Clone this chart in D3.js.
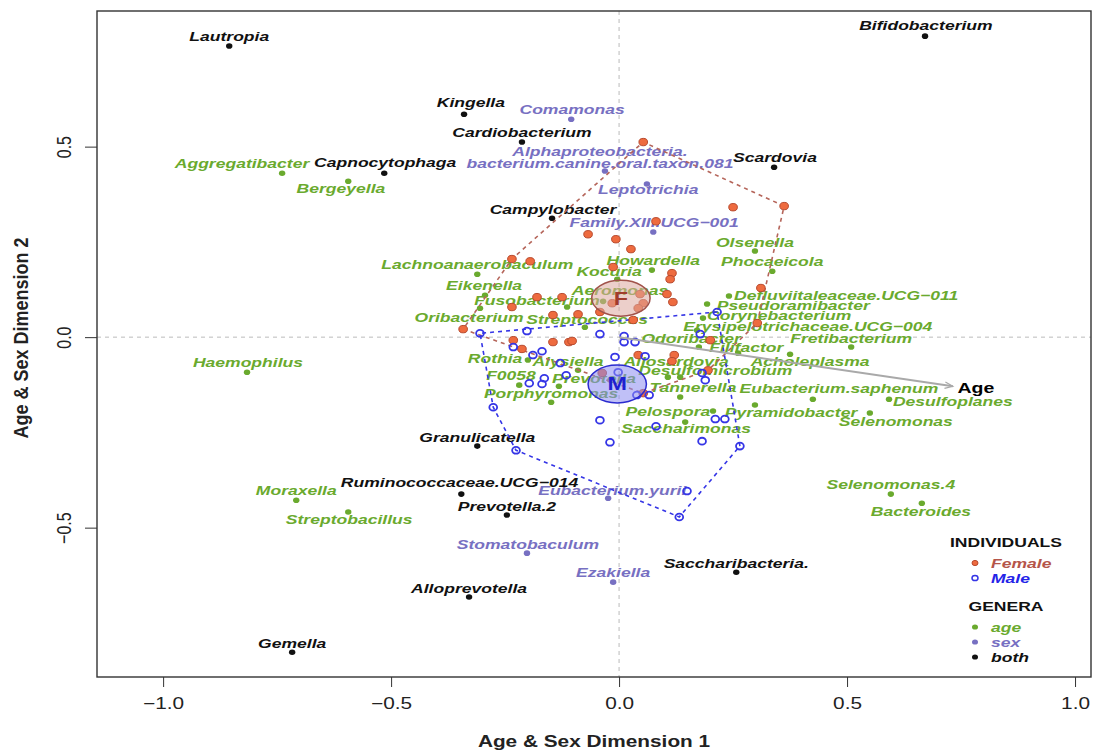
<!DOCTYPE html>
<html>
<head>
<meta charset="utf-8">
<style>
  body { margin: 0; background: #fff; }
  svg text { font-family: "Liberation Sans", Arial, sans-serif; }
  .lab { font-size: 13.5px; font-weight: bold; font-style: italic; }
  .ticklab { font-size: 16px; fill: #222; }
  .title { font-size: 16px; font-weight: bold; fill: #222; }
  .leg { font-size: 13.5px; font-weight: bold; }
</style>
</head>
<body>
<div id="chart"></div>
<script src="https://cdn.jsdelivr.net/npm/d3@7"></script>
<script>
// genera: [name, dim1, dim2, label dim1, label dim2]
var ageGenera = [
  ["Aggregatibacter", -0.739, 0.430, -0.827, 0.457],
  ["Bergeyella", -0.594, 0.409, -0.610, 0.391],
  ["Haemophilus", -0.816, -0.092, -0.814, -0.066],
  ["Moraxella", -0.708, -0.428, -0.708, -0.402],
  ["Streptobacillus", -0.594, -0.459, -0.592, -0.478],
  ["Lachnoanaerobaculum", -0.311, 0.165, -0.311, 0.192],
  ["Eikenella", -0.294, 0.110, -0.296, 0.136],
  ["Fusobacterium", -0.114, 0.079, -0.180, 0.097],
  ["Oribacterium", -0.305, 0.076, -0.329, 0.052],
  ["Streptococcus", -0.075, 0.026, -0.070, 0.047],
  ["Kocuria", -0.004, 0.152, -0.022, 0.173],
  ["Howardella", 0.072, 0.176, 0.075, 0.202],
  ["Aeromonas", -0.035, 0.094, 0.002, 0.123],
  ["Olsenella", 0.298, 0.226, 0.298, 0.249],
  ["Phocaeicola", 0.336, 0.173, 0.336, 0.199],
  ["Defluviitaleaceae.UCG\u2212011", 0.241, 0.108, 0.498, 0.110],
  ["Pseudoramibacter", 0.193, 0.087, 0.382, 0.084],
  ["Corynebacterium", 0.184, 0.050, 0.351, 0.058],
  ["Erysipelotrichaceae.UCG\u2212004", 0.171, 0.018, 0.414, 0.029],
  ["Odoribacter", 0.175, -0.026, 0.158, -0.003],
  ["Filifactor", 0.261, -0.042, 0.279, -0.026],
  ["Fretibacterium", 0.509, -0.026, 0.509, -0.003],
  ["Acholeplasma", 0.375, -0.045, 0.419, -0.063],
  ["Rothia", -0.200, -0.060, -0.272, -0.055],
  ["Alysiella", -0.090, -0.087, -0.112, -0.063],
  ["Allosardovia", 0.107, -0.105, 0.125, -0.063],
  ["Desulfomicrobium", 0.134, -0.105, 0.211, -0.087],
  ["F0058", -0.219, -0.126, -0.237, -0.100],
  ["Prevotella", -0.132, -0.129, -0.055, -0.108],
  ["Porphyromonas", -0.149, -0.171, -0.149, -0.147],
  ["Tannerella", 0.134, -0.157, 0.162, -0.131],
  ["Eubacterium.saphenum", 0.425, -0.163, 0.482, -0.134],
  ["Desulfoplanes", 0.592, -0.163, 0.732, -0.168],
  ["Pyramidobacter", 0.298, -0.178, 0.377, -0.197],
  ["Selenomonas", 0.550, -0.199, 0.607, -0.220],
  ["Pelospora", 0.206, -0.194, 0.107, -0.194],
  ["Saccharimonas", 0.145, -0.223, 0.147, -0.239],
  ["Selenomonas.4", 0.596, -0.412, 0.596, -0.386],
  ["Bacteroides", 0.664, -0.436, 0.662, -0.457]
];

var sexGenera = [
  ["Comamonas", -0.105, 0.572, -0.103, 0.598],
  ["Alphaproteobacteria.\nbacterium.canine.oral.taxon.081", -0.031, 0.436, -0.042, 0.472],
  ["Leptotrichia", 0.061, 0.402, 0.064, 0.388],
  ["Family.XIII.UCG\u2212001", 0.075, 0.276, 0.077, 0.302],
  ["Eubacterium.yurii", -0.024, -0.423, -0.015, -0.402],
  ["Stomatobaculum", -0.202, -0.567, -0.200, -0.543],
  ["Ezakiella", -0.013, -0.643, -0.013, -0.617]
];

var bothGenera = [
  ["Lautropia", -0.855, 0.764, -0.855, 0.790],
  ["Kingella", -0.340, 0.585, -0.325, 0.617],
  ["Cardiobacterium", -0.213, 0.512, -0.213, 0.538],
  ["Capnocytophaga", -0.515, 0.430, -0.513, 0.459],
  ["Campylobacter", -0.147, 0.312, -0.145, 0.336],
  ["Bifidobacterium", 0.671, 0.790, 0.673, 0.819],
  ["Scardovia", 0.340, 0.446, 0.342, 0.472],
  ["Granulicatella", -0.311, -0.286, -0.311, -0.262],
  ["Ruminococcaceae.UCG\u2212014", -0.346, -0.412, -0.350, -0.380],
  ["Prevotella.2", -0.246, -0.467, -0.246, -0.444],
  ["Alloprevotella", -0.329, -0.682, -0.329, -0.659],
  ["Saccharibacteria.", 0.257, -0.617, 0.257, -0.593],
  ["Gemella", -0.717, -0.827, -0.717, -0.803]
];

// individuals [dim1, dim2]
var female = [
  [0.053, 0.512], [0.250, 0.341], [0.362, 0.344], [0.081, 0.304], [-0.068, 0.270],
  [-0.007, 0.257], [0.026, 0.231], [-0.235, 0.205], [-0.195, 0.199], [-0.013, 0.184],
  [0.116, 0.168], [0.112, 0.152], [0.311, 0.129], [0.105, 0.113], [0.118, 0.092],
  [-0.180, 0.105], [-0.125, 0.105], [-0.235, 0.079], [-0.145, 0.058], [-0.090, 0.060],
  [-0.015, 0.089], [0.046, 0.113], [0.053, 0.089], [0.042, 0.076], [-0.042, 0.066],
  [0.031, 0.045], [0.303, 0.037], [-0.342, 0.021], [-0.232, -0.008], [-0.213, -0.031],
  [-0.145, -0.013], [-0.110, -0.013], [-0.103, -0.010], [0.200, -0.008], [0.042, -0.047],
  [0.121, -0.047], [0.116, -0.063], [0.195, -0.087], [-0.037, -0.094], [0.053, -0.147]
];

var male = [
  [-0.305, 0.010], [-0.202, 0.016], [-0.042, 0.008], [0.011, 0.003], [0.011, -0.013],
  [0.035, -0.013], [-0.232, -0.026], [-0.169, -0.037], [-0.189, -0.047], [-0.009, -0.052],
  [0.057, -0.050], [-0.129, -0.068], [-0.164, -0.108], [-0.197, -0.121], [-0.169, -0.123],
  [-0.116, -0.100], [-0.002, -0.092], [0.039, -0.152], [0.066, -0.152], [-0.276, -0.184],
  [-0.042, -0.218], [-0.020, -0.276], [0.081, -0.234], [0.182, -0.273], [0.211, -0.215],
  [0.232, -0.215], [0.265, -0.286], [0.215, 0.066], [0.178, 0.008], [0.189, -0.113],
  [0.182, -0.094], [-0.226, -0.297], [0.149, -0.404], [0.132, -0.472]
];

// group ellipses: [centre dim1, centre dim2, radius dim1, radius dim2]
var femaleEllipse = [0.004, 0.102, 0.064, 0.047];
var maleEllipse = [-0.004, -0.123, 0.064, 0.050];

var ageArrow = [0.732, -0.129];
var xTicks = [-1, -0.5, 0, 0.5, 1];
var yTicks = [-0.5, 0, 0.5];

var colAge = "#6AAA2E", colSex = "#7770C2", colBoth = "#111111";
var femFill = "#EE6B3F", femStroke = "#B84A2E", maleCol = "#3535E6";

var W = 1094, H = 755;
var plot = { left: 97, right: 1091, top: 11, bottom: 677 };
var stretch = 1.3;  // picture is wider than tall, text is stretched

var svg = d3.select("#chart").append("svg")
    .attr("width", W)
    .attr("height", H);

var x = d3.scaleLinear().domain([-1.145, 1.035]).range([plot.left, plot.right]);
var y = d3.scaleLinear().domain([-0.892, 0.856]).range([plot.bottom, plot.top]);

function wideText(g, px, py, str, anchor) {
  return g.append("text")
    .attr("transform", "translate(" + px + "," + py + ") scale(" + stretch + ",1)")
    .attr("text-anchor", anchor || "middle")
    .attr("dy", "0.35em")
    .text(str);
}

// zero lines
svg.append("line")
    .attr("x1", x(0)).attr("x2", x(0))
    .attr("y1", plot.top).attr("y2", plot.bottom)
    .style("stroke", "#bbb").style("stroke-dasharray", "4,4");
svg.append("line")
    .attr("x1", plot.left).attr("x2", plot.right)
    .attr("y1", y(0)).attr("y2", y(0))
    .style("stroke", "#bbb").style("stroke-dasharray", "4,4");

// x axis
var gx = svg.append("g")
    .attr("transform", "translate(0," + plot.bottom + ")")
    .call(d3.axisBottom(x).tickValues(xTicks).tickSize(10).tickSizeOuter(0)
      .tickFormat(d3.format(".1f")));
gx.select(".domain").remove();
gx.selectAll(".tick line").style("stroke", "#333");
gx.selectAll(".tick text")
    .attr("class", "ticklab")
    .attr("y", null)
    .attr("dy", "0.35em")
    .attr("transform", "translate(0,26) scale(" + stretch + ",1)");

// y axis
var gy = svg.append("g")
    .attr("transform", "translate(" + plot.left + ",0)")
    .call(d3.axisLeft(y).tickValues(yTicks).tickSize(12).tickSizeOuter(0)
      .tickFormat(d3.format(".1f")));
gy.select(".domain").remove();
gy.selectAll(".tick line").style("stroke", "#333");
gy.selectAll(".tick text")
    .attr("class", "ticklab")
    .attr("x", null)
    .attr("dy", "0.35em")
    .attr("text-anchor", "middle")
    .attr("transform", "translate(-33,0) rotate(-90) scale(1," + stretch + ")");

// box
svg.append("rect")
    .attr("x", plot.left).attr("y", plot.top)
    .attr("width", plot.right - plot.left)
    .attr("height", plot.bottom - plot.top)
    .style("fill", "none").style("stroke", "#333").style("stroke-width", 1.4);

// axis titles
wideText(svg, (plot.left + plot.right) / 2, 741, "Age & Sex Dimension 1").attr("class", "title");
svg.append("text")
    .attr("class", "title")
    .attr("transform", "translate(21,338) rotate(-90) scale(1,1.15)")
    .attr("text-anchor", "middle")
    .attr("dy", "0.35em")
    .style("font-size", "18px")
    .text("Age & Sex Dimension 2");

// genera
function drawGenera(list, col) {
  var g = svg.append("g");
  list.forEach(function (d) {
    g.append("ellipse")
      .attr("cx", x(d[1])).attr("cy", y(d[2]))
      .attr("rx", 3.2).attr("ry", 2.8)
      .style("fill", col);
    var lines = d[0].split("\n");
    lines.forEach(function (s, i) {
      var off = (i - (lines.length - 1) / 2) * 12;
      wideText(g, x(d[3]), y(d[4]) + off, s)
        .attr("class", "lab")
        .style("fill", col);
    });
  });
}
drawGenera(ageGenera, colAge);
drawGenera(sexGenera, colSex);
drawGenera(bothGenera, colBoth);

// hulls
function hullPath(pts) {
  var h = d3.polygonHull(pts.map(function (d) { return [x(d[0]), y(d[1])]; }));
  return "M" + h.join("L") + "Z";
}
svg.append("path")
    .attr("d", hullPath(female))
    .style("fill", "none").style("stroke", "#B5655A")
    .style("stroke-width", 1.6).style("stroke-dasharray", "4,4");
svg.append("path")
    .attr("d", hullPath(male))
    .style("fill", "none").style("stroke", maleCol)
    .style("stroke-width", 1.6).style("stroke-dasharray", "4,4");

// individuals
svg.append("g").selectAll("ellipse")
  .data(female).enter().append("ellipse")
    .attr("cx", function (d) { return x(d[0]); })
    .attr("cy", function (d) { return y(d[1]); })
    .attr("rx", 4.3).attr("ry", 3.7)
    .style("fill", femFill).style("stroke", femStroke).style("stroke-width", 1);
svg.append("g").selectAll("ellipse")
  .data(male).enter().append("ellipse")
    .attr("cx", function (d) { return x(d[0]); })
    .attr("cy", function (d) { return y(d[1]); })
    .attr("rx", 3.9).attr("ry", 3.4)
    .style("fill", "none").style("stroke", maleCol).style("stroke-width", 1.8);

// group ellipses
function groupEllipse(e, fill, stroke, lab, labCol) {
  svg.append("ellipse")
    .attr("cx", x(e[0])).attr("cy", y(e[1]))
    .attr("rx", x(e[2]) - x(0)).attr("ry", y(0) - y(e[3]))
    .style("fill", fill).style("fill-opacity", 0.55)
    .style("stroke", stroke).style("stroke-width", 1.5);
  wideText(svg, x(e[0]), y(e[1]), lab)
    .style("font-size", "18px").style("font-weight", "bold")
    .style("fill", labCol);
}
groupEllipse(femaleEllipse, "#DDA89E", "#A0524A", "F", "#A03C2C");
groupEllipse(maleEllipse, "#8C8CF0", "#2B2BCF", "M", "#1F1FD0");

// age arrow
svg.append("defs").append("marker")
    .attr("id", "ah")
    .attr("viewBox", "0 0 10 10")
    .attr("refX", 10).attr("refY", 5)
    .attr("markerWidth", 12).attr("markerHeight", 8)
    .attr("markerUnits", "userSpaceOnUse")
    .attr("orient", "auto")
  .append("path")
    .attr("d", "M0,1L10,5L0,9")
    .style("fill", "none").style("stroke", "#A9A9A9").style("stroke-width", 1.5);
svg.append("line")
    .attr("x1", x(0)).attr("y1", y(0))
    .attr("x2", x(ageArrow[0])).attr("y2", y(ageArrow[1]))
    .attr("marker-end", "url(#ah)")
    .style("stroke", "#A9A9A9").style("stroke-width", 2);
wideText(svg, x(ageArrow[0]) + 23, y(ageArrow[1]) + 1, "Age")
    .style("font-size", "15px").style("font-weight", "bold").style("fill", "#000");

// legend
var leg = svg.append("g");
var lx = 975, tx = 991;
wideText(leg, 1006, 542, "INDIVIDUALS").attr("class", "leg").style("fill", "#111");
var indivLegend = [["Female", "#B5554A"], ["Male", "#2424E8"]];
indivLegend.forEach(function (d, i) {
  var yy = 563 + i * 15;
  var m = leg.append("ellipse").attr("cx", lx).attr("cy", yy).attr("rx", 3).attr("ry", 2.6);
  if (i === 0) m.style("fill", femFill).style("stroke", femStroke);
  else m.style("fill", "none").style("stroke", maleCol).style("stroke-width", 1.5);
  wideText(leg, tx, yy, d[0], "start").attr("class", "leg")
    .style("font-style", "italic").style("fill", d[1]);
});
wideText(leg, 1006, 606, "GENERA").attr("class", "leg").style("fill", "#111");
var generaLegend = [["age", colAge], ["sex", colSex], ["both", colBoth]];
generaLegend.forEach(function (d, i) {
  var yy = 627 + i * 15;
  leg.append("ellipse").attr("cx", lx).attr("cy", yy).attr("rx", 3).attr("ry", 2.6)
    .style("fill", d[1]);
  wideText(leg, tx, yy, d[0], "start").attr("class", "leg")
    .style("font-style", "italic").style("fill", d[1]);
});
</script>
</body>
</html>
